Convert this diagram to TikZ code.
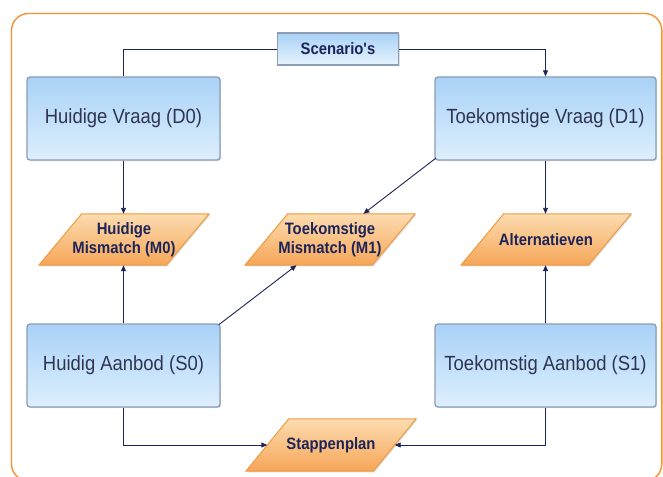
\documentclass[tikz,border=0pt]{standalone}
\usepackage{fontspec}
\setmainfont{Liberation Sans}
\newfontfamily\boldn[FakeStretch=0.9]{Liberation Sans Bold}
\usetikzlibrary{arrows.meta,shadings,shadows}
\pgfdeclarelayer{background}
\pgfsetlayers{background,main}
\definecolor{frameor}{HTML}{F7932F}
\definecolor{bluetop}{HTML}{A9D2F7}
\definecolor{bluebot}{HTML}{DDEFFD}
\definecolor{blueline}{HTML}{8C9DB5}
\definecolor{ortop}{HTML}{FCDCB0}
\definecolor{orbot}{HTML}{F6A658}
\definecolor{orline}{HTML}{EE9A3E}
\definecolor{navy}{HTML}{1C2459}
\definecolor{boxtext}{HTML}{30354F}
\tikzset{
  bluebox/.style={draw=blueline, line width=1.3pt, rounded corners=3pt,
    top color=bluetop, bottom color=bluebot, text=boxtext,
    font=\fontsize{20.5}{24}\selectfont\addfontfeature{FakeStretch=0.9},
    drop shadow={shadow xshift=1.2pt, shadow yshift=-1.2pt, opacity=0.25},
    minimum height=83pt, inner sep=0pt},
  scenbox/.style={draw=blueline, line width=1.3pt,
    top color=bluetop, bottom color=bluebot!70!white, text=navy,
    font=\boldn\fontsize{16.5}{19}\selectfont,
    drop shadow={shadow xshift=1.2pt, shadow yshift=-1.2pt, opacity=0.25},
    minimum width=121pt, minimum height=32pt, inner sep=0pt},
  parabox/.style={shape=rectangle, text=navy,
    font=\boldn\fontsize{16.5}{19.5}\selectfont, align=center,
    minimum width=127pt, minimum height=51pt, inner sep=0pt},
  parafill/.style={draw=orline, line width=1pt, top color=ortop, bottom color=orbot,
    drop shadow={shadow xshift=1.2pt, shadow yshift=-1.2pt, opacity=0.25}},
  conn/.style={draw=navy, line width=0.9pt, -{Triangle[length=6pt,width=5pt]}},
  plain/.style={draw=navy, line width=0.9pt}
}
\newcommand\paraback[1]{%
  \path[parafill] ([xshift=21.4pt]#1.north west) -- ([xshift=21.4pt]#1.north east)
    -- ([xshift=-21.4pt]#1.south east) -- ([xshift=-21.4pt]#1.south west) -- cycle;}
\begin{document}
\begin{tikzpicture}[x=1pt,y=-1pt]
\useasboundingbox (0,0) rectangle (663,476);

\node[scenbox] (scen) at (338,49) {Scenario's};
\node[bluebox, minimum width=193pt] (d0) at (123.5,118.5) {Huidige Vraag (D0)};
\node[bluebox, minimum width=221pt] (d1) at (545.5,118.5) {Toekomstige Vraag (D1)};
\node[bluebox, minimum width=193pt] (s0) at (123.5,365.5) {Huidig Aanbod (S0)};
\node[bluebox, minimum width=221pt] (s1) at (545.5,365.5) {Toekomstig Aanbod (S1)};

\node[parabox] (m0) at (124,239.5) {Huidige\\Mismatch (M0)};
\node[parabox] (m1) at (330,239.5) {Toekomstige\\Mismatch (M1)};
\node[parabox] (alt) at (546,239.5) {Alternatieven};
\node[parabox, minimum height=52pt] (stap) at (331,445) {Stappenplan};

\begin{pgfonlayer}{background}
  \fill[white] (0,0) rectangle (663,476);
  \draw[frameor, line width=1.4pt, rounded corners=17pt] (11.5,13.5) rectangle (661.8,481);
  \paraback{m0}
  \paraback{m1}
  \paraback{alt}
  \paraback{stap}
\end{pgfonlayer}

\draw[plain] (d0.north) |- (scen.west);
\draw[conn] (scen.east) -| (d1.north);
\draw[conn] (d0.south) -- (d0.south |- m0.north);
\draw[conn] (d1.south) -- (d1.south |- alt.north);
\draw[conn] (s0.north) -- (s0.north |- m0.south);
\draw[conn] (s1.north) -- (s1.north |- alt.south);
\draw[conn] ([shift={(1.5,-2.5)}]d1.south west) -- (m1);
\draw[conn] ([shift={(-2,1.5)}]s0.north east) -- (m1);
\draw[conn] (s0.south) |- (stap.west);
\draw[conn] (s1.south) |- (stap.east);
\end{tikzpicture}
\end{document}
